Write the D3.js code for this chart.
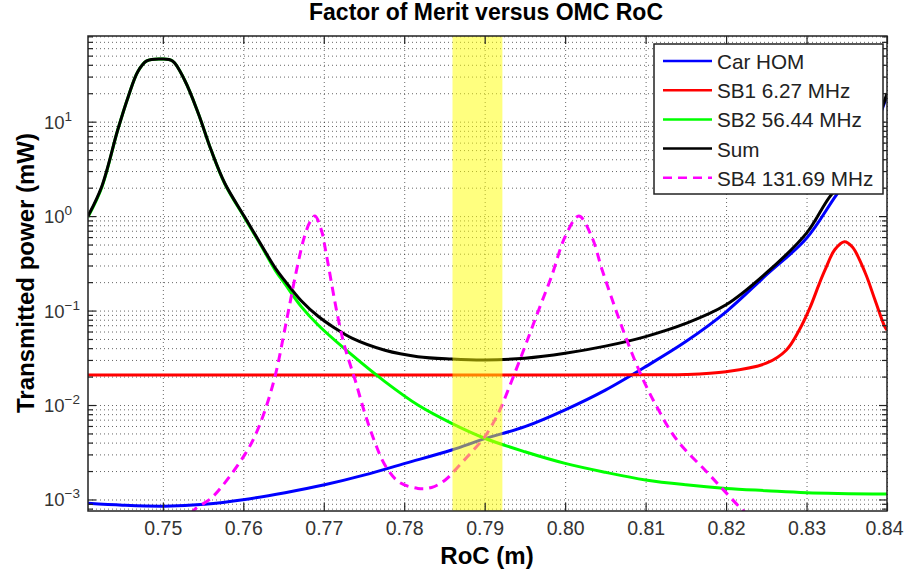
<!DOCTYPE html>
<html>
<head>
<meta charset="utf-8">
<title>Factor of Merit versus OMC RoC</title>
<script src="https://cdn.jsdelivr.net/npm/d3@7/dist/d3.min.js"></script>
<style>
	body { margin: 0; background: #fff; }
	svg { font-family: "Liberation Sans", Arial, Helvetica, sans-serif; }
	.grid line { stroke: #000; stroke-opacity: 0.6; stroke-dasharray: 1,3; }
	.grid path, .axis path { display: none; }
	.axis line { stroke: #222; stroke-width: 1.2; }
	.line { fill: none; stroke-width: 3; stroke-linejoin: round; }
</style>
</head>
<body>
<div id="chart"></div>
<script>
// Values (RoC in m, power in mW)
var carRoc = [0.7407, 0.745, 0.7502, 0.7552, 0.7602, 0.7652, 0.7701, 0.7751, 0.7801, 0.7859, 0.79,
	0.795, 0.80, 0.805, 0.81, 0.815, 0.82, 0.825, 0.83, 0.8337, 0.836, 0.838, 0.8394, 0.84];
var carPower = [9.1e-4, 8.7e-4, 8.5e-4, 8.9e-4, 1.0e-3, 1.18e-3, 1.43e-3, 1.82e-3, 2.41e-3, 3.34e-3, 4.4e-3,
	5.9e-3, 8.9e-3, 1.44e-2, 2.55e-2, 4.7e-2, 0.097, 0.238, 0.582, 1.67, 3.0, 6.5, 13.5, 19];

var sb1Roc = [0.7407, 0.76, 0.78, 0.80, 0.81, 0.815, 0.82, 0.825, 0.8275, 0.8291, 0.8304, 0.8316,
	0.8323, 0.8335, 0.8347, 0.8357, 0.8373, 0.8385, 0.8397, 0.84];
var sb1Power = [0.0208, 0.0208, 0.0208, 0.0208, 0.0209, 0.021, 0.0225, 0.0277, 0.0383, 0.0623, 0.106, 0.194,
	0.269, 0.44, 0.536, 0.47, 0.25, 0.13, 0.068, 0.062];

var sb2Roc = [0.7407, 0.7424, 0.7444, 0.7457, 0.7469, 0.748, 0.7498, 0.7512, 0.7527, 0.7544, 0.756,
	0.7577, 0.7601, 0.7622, 0.764, 0.7652, 0.7672, 0.7693, 0.7735, 0.7776, 0.7817, 0.7859, 0.79, 0.795,
	0.80, 0.805, 0.81, 0.815, 0.82, 0.825, 0.83, 0.84];
var sb2Power = [0.98, 2.0, 8.2, 18.4, 34, 44, 46, 44, 27.6, 12.3, 5.0,
	2.2, 0.98, 0.49, 0.265, 0.19, 0.11, 0.0704, 0.0339, 0.0177, 0.0100, 6.4e-3, 4.45e-3, 3.2e-3,
	2.41e-3, 1.94e-3, 1.61e-3, 1.43e-3, 1.31e-3, 1.24e-3, 1.18e-3, 1.14e-3];

var sumRoc = [0.7407, 0.7424, 0.7444, 0.7457, 0.7469, 0.748, 0.7498, 0.7512, 0.7527, 0.7544, 0.756,
	0.7577, 0.7601, 0.7622, 0.764, 0.7652, 0.7672, 0.7693, 0.7714, 0.7735, 0.7776, 0.7817, 0.7859, 0.79,
	0.795, 0.80, 0.805, 0.81, 0.815, 0.82, 0.825, 0.83, 0.8329, 0.836, 0.838, 0.8394, 0.84];
var sumPower = [1.0, 2.05, 8.2, 18.4, 34, 44, 46, 44, 27.6, 12.3, 5.0,
	2.23, 1.0, 0.5, 0.28, 0.205, 0.127, 0.087, 0.065, 0.051, 0.038, 0.0325, 0.0307, 0.030,
	0.0313, 0.0353, 0.042, 0.053, 0.073, 0.115, 0.25, 0.66, 1.61, 3.2, 6.8, 14, 20];

var sb4Roc = [0.7535, 0.754, 0.756, 0.7577, 0.7602, 0.7614, 0.7627, 0.764, 0.7652, 0.7658, 0.7668,
	0.7676, 0.7683, 0.7689, 0.7697, 0.7703, 0.7717, 0.7726, 0.7739, 0.7751, 0.7764, 0.7776,
	0.7793, 0.7817, 0.7834, 0.7851, 0.7867, 0.7884, 0.79, 0.7917, 0.7934, 0.795, 0.7967, 0.7983,
	0.80, 0.8017, 0.8033, 0.8046, 0.8066, 0.8083, 0.81, 0.8116, 0.8133, 0.815, 0.8174, 0.8195,
	0.8218, 0.823];
var sb4Power = [7.0e-4, 7.9e-4, 1.03e-3, 1.5e-3, 3.0e-3, 4.6e-3, 8.8e-3, 0.021, 0.066, 0.12, 0.317,
	0.606, 0.87, 1.0, 0.713, 0.40, 0.09, 0.0415, 0.0184, 8.2e-3, 3.94e-3, 2.32e-3,
	1.54e-3, 1.31e-3, 1.34e-3, 1.61e-3, 2.22e-3, 3.2e-3, 4.6e-3, 8.2e-3, 0.0184, 0.0415, 0.101, 0.229,
	0.606, 1.0, 0.606, 0.269, 0.086, 0.0353, 0.0163, 8.9e-3, 5.0e-3, 3.3e-3, 2.04e-3, 1.31e-3,
	8.1e-4, 6.5e-4];

// Highlighted RoC band (m)
var bandRoc = [0.786, 0.7922];

var xTicks = [0.75, 0.76, 0.77, 0.78, 0.79, 0.80, 0.81, 0.82, 0.83, 0.84];
var yTicks = [1e-3, 1e-2, 1e-1, 1, 10];
var yTickExp = ["\u22123", "\u22122", "\u22121", "0", "1"];
var legendLabels = ["Car HOM", "SB1 6.27 MHz", "SB2 56.44 MHz", "Sum", "SB4 131.69 MHz"];

var series = [
	{ roc: carRoc, power: carPower, color: "#0000ff", dash: null },
	{ roc: sb1Roc, power: sb1Power, color: "#ff0000", dash: null },
	{ roc: sb2Roc, power: sb2Power, color: "#00ff00", dash: null },
	{ roc: sumRoc, power: sumPower, color: "#000000", dash: null },
	{ roc: sb4Roc, power: sb4Power, color: "#ff00ff", dash: "9,6" }
];

var margin = { top: 36, right: 17, bottom: 64, left: 88 },
	width = 904 - margin.left - margin.right,
	height = 575 - margin.top - margin.bottom;

// Set the ranges
var x = d3.scaleLinear().domain([0.7407, 0.84]).range([0, width]);
var y = d3.scaleLog().domain([7.55e-4, 80.7]).range([height, 0]);

// Minor log ticks 2..9 per decade
var minorTicks = [];
for (var e = -4; e <= 1; e++) {
	for (var k = 2; k <= 9; k++) {
		var v = k * Math.pow(10, e);
		if (v > y.domain()[0] && v < y.domain()[1]) minorTicks.push(v);
	}
}

var svg = d3.select("#chart")
	.append("svg")
	.attr("width", 904)
	.attr("height", 575);

var g = svg.append("g")
	.attr("transform", "translate(" + margin.left + "," + margin.top + ")");

g.append("rect").attr("width", width).attr("height", height).attr("fill", "#fff");

// Grid lines
g.append("g")
	.attr("class", "grid")
	.attr("transform", "translate(0," + height + ")")
	.call(d3.axisBottom(x).tickValues(xTicks).tickSize(-height).tickFormat(""));

g.append("g")
	.attr("class", "grid")
	.call(d3.axisLeft(y).tickValues(yTicks.concat(minorTicks)).tickSize(-width).tickFormat(""));

// Clip for the curves
g.append("clipPath").attr("id", "plotClip")
	.append("rect").attr("width", width).attr("height", height);

var valueline = d3.line()
	.curve(d3.curveCatmullRom.alpha(0.5))
	.x(function(d) { return x(d[0]); })
	.y(function(d) { return y(d[1]); });

var curves = g.append("g").attr("clip-path", "url(#plotClip)");

series.forEach(function(s) {
	var pts = s.roc.map(function(r, i) { return [r, s.power[i]]; });
	curves.append("path")
		.attr("class", "line")
		.attr("d", valueline(pts))
		.attr("stroke", s.color)
		.attr("stroke-dasharray", s.dash);
});

// Yellow band, semi transparent over the curves
g.append("rect")
	.attr("x", x(bandRoc[0]))
	.attr("width", x(bandRoc[1]) - x(bandRoc[0]))
	.attr("y", 0)
	.attr("height", height)
	.attr("fill", "#ffff00")
	.attr("fill-opacity", 0.5);

// Add the X Axis (ticks inside, both sides)
var xAxis = g.append("g")
	.attr("class", "axis")
	.attr("transform", "translate(0," + height + ")")
	.call(d3.axisBottom(x).tickValues(xTicks).tickSizeInner(-8).tickSizeOuter(0)
		.tickPadding(10).tickFormat(d3.format(".2f")));
xAxis.selectAll("text")
	.attr("font-size", "19.5px")
	.attr("fill", "#333")
	.attr("font-family", null);
// last label sits on the window edge: keep it inside
xAxis.selectAll(".tick:last-of-type text")
	.attr("text-anchor", "end")
	.attr("x", 16);

g.append("g")
	.attr("class", "axis")
	.call(d3.axisTop(x).tickValues(xTicks).tickSizeInner(-8).tickSizeOuter(0).tickFormat(""));

// Add the Y Axis (major and minor ticks, both sides)
[0, width].forEach(function(pos) {
	var sgn = pos === 0 ? 1 : -1;
	var a = g.append("g").attr("class", "axis").attr("transform", "translate(" + pos + ",0)");
	a.append("g").call(d3.axisLeft(y).tickValues(yTicks).tickSizeInner(-8 * sgn).tickSizeOuter(0).tickFormat(""));
	a.append("g").call(d3.axisLeft(y).tickValues(minorTicks).tickSizeInner(-5 * sgn).tickSizeOuter(0).tickFormat(""));
});

// Y tick labels as 10^n
var yLab = g.append("g").attr("fill", "#333");
yTicks.forEach(function(t, i) {
	var txt = yLab.append("text")
		.attr("x", -44)
		.attr("y", y(t) + 7)
		.attr("font-size", "18.5px")
		.text("10");
	txt.append("tspan")
		.attr("dy", -8)
		.attr("font-size", "13.5px")
		.text(yTickExp[i]);
});

// Axes box
g.append("rect")
	.attr("width", width)
	.attr("height", height)
	.attr("fill", "none")
	.attr("stroke", "#222")
	.attr("stroke-width", 1.5);

// Legend
var legend = g.append("g").attr("transform", "translate(" + (width - 233) + ",8)");
legend.append("rect")
	.attr("width", 229)
	.attr("height", 150)
	.attr("fill", "#fff")
	.attr("stroke", "#222")
	.attr("stroke-width", 1.5);

legendLabels.forEach(function(label, i) {
	var ly = 17 + i * 29.2;
	legend.append("line")
		.attr("x1", 9).attr("x2", 58)
		.attr("y1", ly).attr("y2", ly)
		.attr("stroke", series[i].color)
		.attr("stroke-width", 2.5)
		.attr("stroke-dasharray", series[i].dash);
	legend.append("text")
		.attr("x", 63)
		.attr("y", ly + 8)
		.attr("font-size", "20.7px")
		.attr("fill", "#222")
		.text(label);
});

// Title and axis labels
svg.append("text")
	.attr("x", 486)
	.attr("y", 20)
	.attr("text-anchor", "middle")
	.attr("font-size", "23px")
	.attr("font-weight", "bold")
	.text("Factor of Merit versus OMC RoC");

svg.append("text")
	.attr("x", 487)
	.attr("y", 564)
	.attr("text-anchor", "middle")
	.attr("font-size", "24px")
	.attr("font-weight", "bold")
	.text("RoC (m)");

svg.append("text")
	.attr("transform", "translate(34,273) rotate(-90)")
	.attr("text-anchor", "middle")
	.attr("font-size", "24px")
	.attr("font-weight", "bold")
	.text("Transmitted power (mW)");
</script>
</body>
</html>
